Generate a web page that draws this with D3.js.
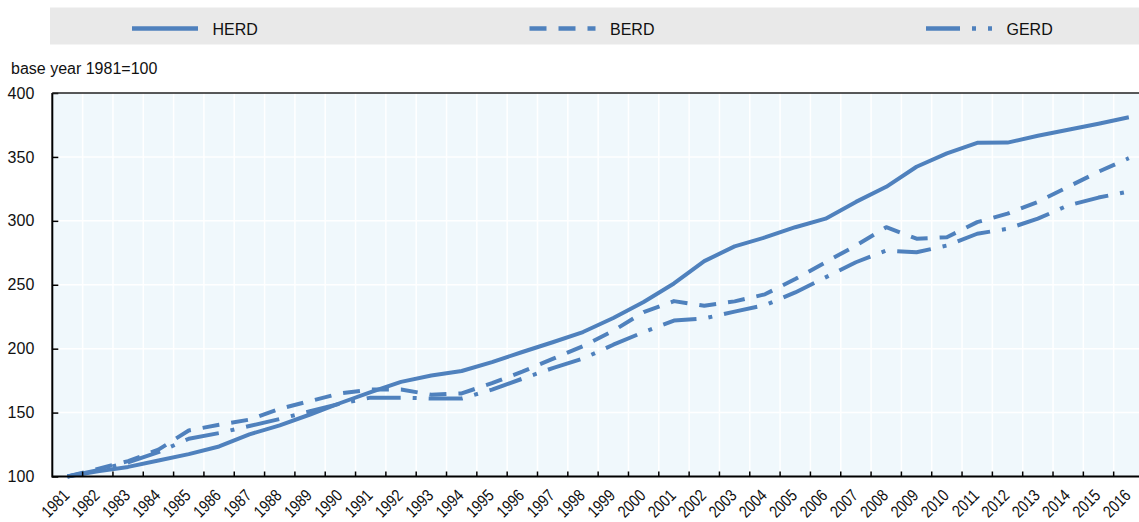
<!DOCTYPE html>
<html>
<head>
<meta charset="utf-8">
<script src="https://cdn.jsdelivr.net/npm/d3@7"></script>
<style>
  html, body { margin: 0; padding: 0; background: #ffffff; }
  svg { display: block; font-family: "Liberation Sans", Arial, sans-serif; }
</style>
</head>
<body>
<svg id="chart" width="1139" height="522"></svg>
<script>
const years = ["1981","1982","1983","1984","1985","1986","1987","1988","1989","1990",
  "1991","1992","1993","1994","1995","1996","1997","1998","1999","2000",
  "2001","2002","2003","2004","2005","2006","2007","2008","2009","2010",
  "2011","2012","2013","2014","2015","2016"];

const herd = [100,104,107.5,112.5,117.5,123.5,133,140,148.5,157.5,
  166,174,179,182.5,189.5,197.4,205,213,224,236.5,
  251,268.5,280,287,295,301.7,314.8,326.6,342.3,352.8,
  361,361.2,366.5,371.2,376,381];

const berd = [100,106,112,121,136,140.5,144.5,153,159,165,
  168,168,164,165,173,182,192,202,214,228.6,
  237.2,233.6,237,242.5,254.5,267.6,280.7,295,286,287.2,
  299,305.6,314.8,326.6,338.4,349];

const gerd = [100,105,111,119,129.5,134,139.5,145,151,157,
  161.7,161.7,161,161,168,176.5,184.8,192.2,203.1,213,
  222,223.7,229,234,244,255.8,267.6,276.7,275.4,280.7,
  289.9,293.8,301.7,312.1,318.2,323];

const yTicks = [100,150,200,250,300,350,400];
const seriesNames = ["HERD","BERD","GERD"];

(function () {
const svg = d3.select("#chart");
const color = "#4f81bd";
const pLeft = 52.3, pRight = 1144, pTop = 93, pBottom = 476.5;

const x = d3.scaleBand().domain(years).range([pLeft, pRight]).padding(0);
const y = d3.scaleLinear().domain([100, 400]).range([pBottom, pTop]);

// legend
svg.append("rect").attr("x", 50).attr("y", 7.5).attr("width", 1095).attr("height", 37)
  .attr("fill", "#e9e9e9");
const dashes = { HERD: null, BERD: "17,12", GERD: "34,12,4,12" };
const legendX = { HERD: 132, BERD: 529.5, GERD: 926 };
seriesNames.forEach(n => {
  svg.append("line").attr("x1", legendX[n]).attr("x2", legendX[n] + 66)
    .attr("y1", 28.5).attr("y2", 28.5)
    .attr("stroke", color).attr("stroke-width", 4.3)
    .attr("stroke-dasharray", dashes[n]);
  svg.append("text").attr("x", legendX[n] + 80.5).attr("y", 34.5)
    .attr("font-size", 16).attr("fill", "#111").text(n);
});

// axis title
svg.append("text").attr("x", 11).attr("y", 73.5).attr("font-size", 16)
  .attr("fill", "#111").text("base year 1981=100");

// plot background
svg.append("rect").attr("x", pLeft).attr("y", pTop).attr("width", pRight - pLeft)
  .attr("height", pBottom - pTop).attr("fill", "#f0f8fc");

// grid
svg.append("g").selectAll("line").data(yTicks.slice(1, -1)).join("line")
  .attr("x1", pLeft).attr("x2", pRight)
  .attr("y1", d => y(d)).attr("y2", d => y(d))
  .attr("stroke", "#ffffff").attr("stroke-width", 1.5);
svg.append("g").selectAll("line").data(years.slice(1)).join("line")
  .attr("x1", d => x(d)).attr("x2", d => x(d))
  .attr("y1", pTop).attr("y2", pBottom)
  .attr("stroke", "#ffffff").attr("stroke-width", 1.5);

// lines
const line = d3.line().x((d, i) => x(years[i]) + x.bandwidth() / 2).y(d => y(d));
[[herd, "HERD"], [berd, "BERD"], [gerd, "GERD"]].forEach(([data, n]) => {
  svg.append("path").datum(data).attr("d", line)
    .attr("fill", "none").attr("stroke", color).attr("stroke-width", 4)
    .attr("stroke-linejoin", "round")
    .attr("stroke-dasharray", dashes[n]);
});

// y axis
const yAxis = svg.append("g").attr("transform", `translate(${pLeft},0)`)
  .call(d3.axisLeft(y).tickValues(yTicks).tickSize(-6).tickPadding(18));
yAxis.select(".domain").remove();
yAxis.selectAll(".tick line").attr("stroke", "#000").attr("stroke-width", 1.5);
yAxis.selectAll(".tick text").attr("font-size", 16).attr("fill", "#111")
  .attr("font-family", "Liberation Sans, Arial, sans-serif");

// x axis labels
const xAxis = svg.append("g").attr("transform", `translate(0,${pBottom})`)
  .call(d3.axisBottom(x).tickSize(0).tickPadding(0));
xAxis.select(".domain").remove();
xAxis.selectAll(".tick text")
  .attr("font-size", 17).attr("fill", "#111")
  .attr("font-family", "Liberation Sans, Arial, sans-serif")
  .attr("text-anchor", "end").attr("dy", 0).attr("y", 0)
  .attr("transform", "translate(3,20) rotate(-45) scale(0.82,1)");

// x boundary ticks (inward)
svg.append("g").selectAll("line").data(years.slice(1)).join("line")
  .attr("x1", d => x(d)).attr("x2", d => x(d))
  .attr("y1", pBottom).attr("y2", pBottom - 5)
  .attr("stroke", "#000").attr("stroke-width", 1.5);

// frame
svg.append("line").attr("x1", pLeft).attr("x2", pRight).attr("y1", pBottom).attr("y2", pBottom)
  .attr("stroke", "#000").attr("stroke-width", 2);
svg.append("line").attr("x1", pLeft).attr("x2", pLeft).attr("y1", pTop).attr("y2", pBottom + 1)
  .attr("stroke", "#000").attr("stroke-width", 2);
svg.append("line").attr("x1", pLeft).attr("x2", pRight).attr("y1", pTop).attr("y2", pTop)
  .attr("stroke", "#222").attr("stroke-width", 1.5);
})();
</script>
</body>
</html>
